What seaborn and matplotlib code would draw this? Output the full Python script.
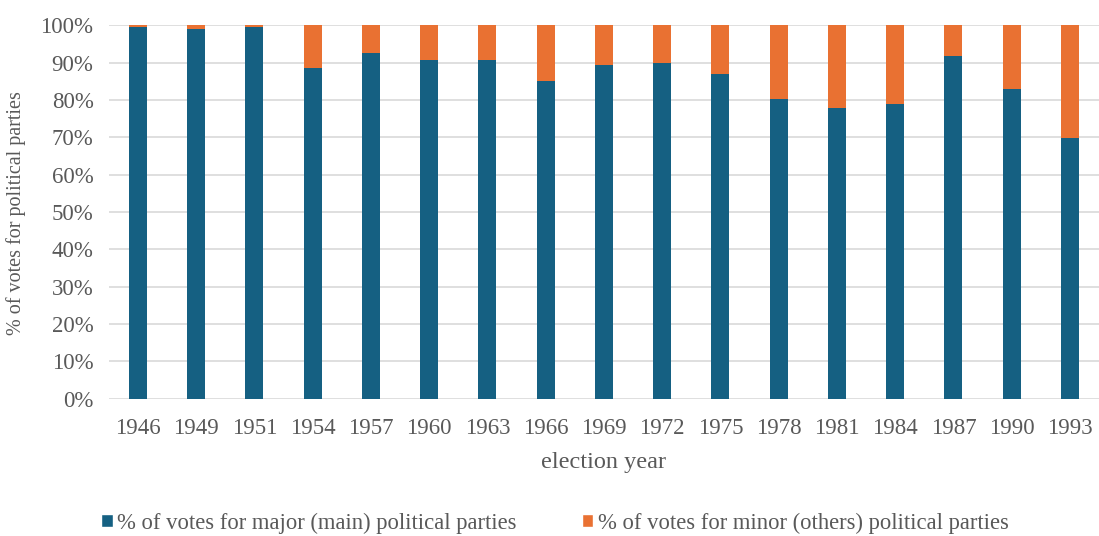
import numpy as np
import pandas as pd
import matplotlib
matplotlib.use("Agg")
import matplotlib.pyplot as plt
import seaborn as sns
from matplotlib.patches import Patch
from matplotlib.ticker import PercentFormatter

years = ["1946", "1949", "1951", "1954", "1957", "1960", "1963", "1966", "1969",
         "1972", "1975", "1978", "1981", "1984", "1987", "1990", "1993"]
major = [99.6, 99.0, 99.6, 88.5, 92.5, 90.7, 90.7, 85.1, 89.4,
         89.8, 87.0, 80.2, 77.8, 78.9, 91.8, 82.9, 69.8]
minor = [0.4, 1.0, 0.4, 11.5, 7.5, 9.3, 9.3, 14.9, 10.6,
         10.2, 13.0, 19.8, 22.2, 21.1, 8.2, 17.1, 30.2]

label_major = "% of votes for major (main) political parties"
label_minor = "% of votes for minor (others) political parties"
c_major = "#156082"
c_minor = "#E97132"
grey = "#595959"

df = pd.DataFrame({"year": years, "major": major, "minor": minor})
df["total"] = df["major"] + df["minor"]

sns.set_style("white")
plt.rcParams["font.family"] = ["Liberation Serif", "DejaVu Serif"]

fig = plt.figure(figsize=(10.99, 5.36), dpi=100)
ax = fig.add_axes([0.099, 0.256, 0.901, 0.697])

# stacked: total (orange) underneath, major (blue) on top
sns.barplot(data=df, x="year", y="total", color=c_minor, width=0.31,
            saturation=1, linewidth=0, ax=ax, zorder=3)
sns.barplot(data=df, x="year", y="major", color=c_major, width=0.31,
            saturation=1, linewidth=0, ax=ax, zorder=4)

ax.set_ylim(0, 100)
ax.set_yticks(np.arange(0, 101, 10))
ax.yaxis.set_major_formatter(PercentFormatter(decimals=0))
ax.set_xlim(-0.5, len(years) - 0.5)
ax.grid(axis="y", color="#D9D9D9", linewidth=1.2, zorder=0)
ax.set_axisbelow(True)
for s in ax.spines.values():
    s.set_visible(False)
ax.tick_params(axis="both", length=0, labelsize=16.5, colors=grey)
ax.tick_params(axis="x", pad=14)
ax.tick_params(axis="y", pad=11)

ax.set_xlabel("election year", fontsize=17.5, color=grey, labelpad=9)
ax.set_ylabel("% of votes for political parties", fontsize=14.5, color=grey)
ax.yaxis.set_label_coords(-0.084, 0.497)

handles = [Patch(facecolor=c_major, label=label_major),
           Patch(facecolor=c_minor, label=label_minor)]
fig.legend(handles=handles, loc="center", bbox_to_anchor=(0.505, 0.024), ncol=2,
           frameon=False, fontsize=16.3, handlelength=0.5, handleheight=0.5,
           handletextpad=0.2, columnspacing=2.87, labelcolor=grey)

fig.savefig("out.png", dpi=100)
